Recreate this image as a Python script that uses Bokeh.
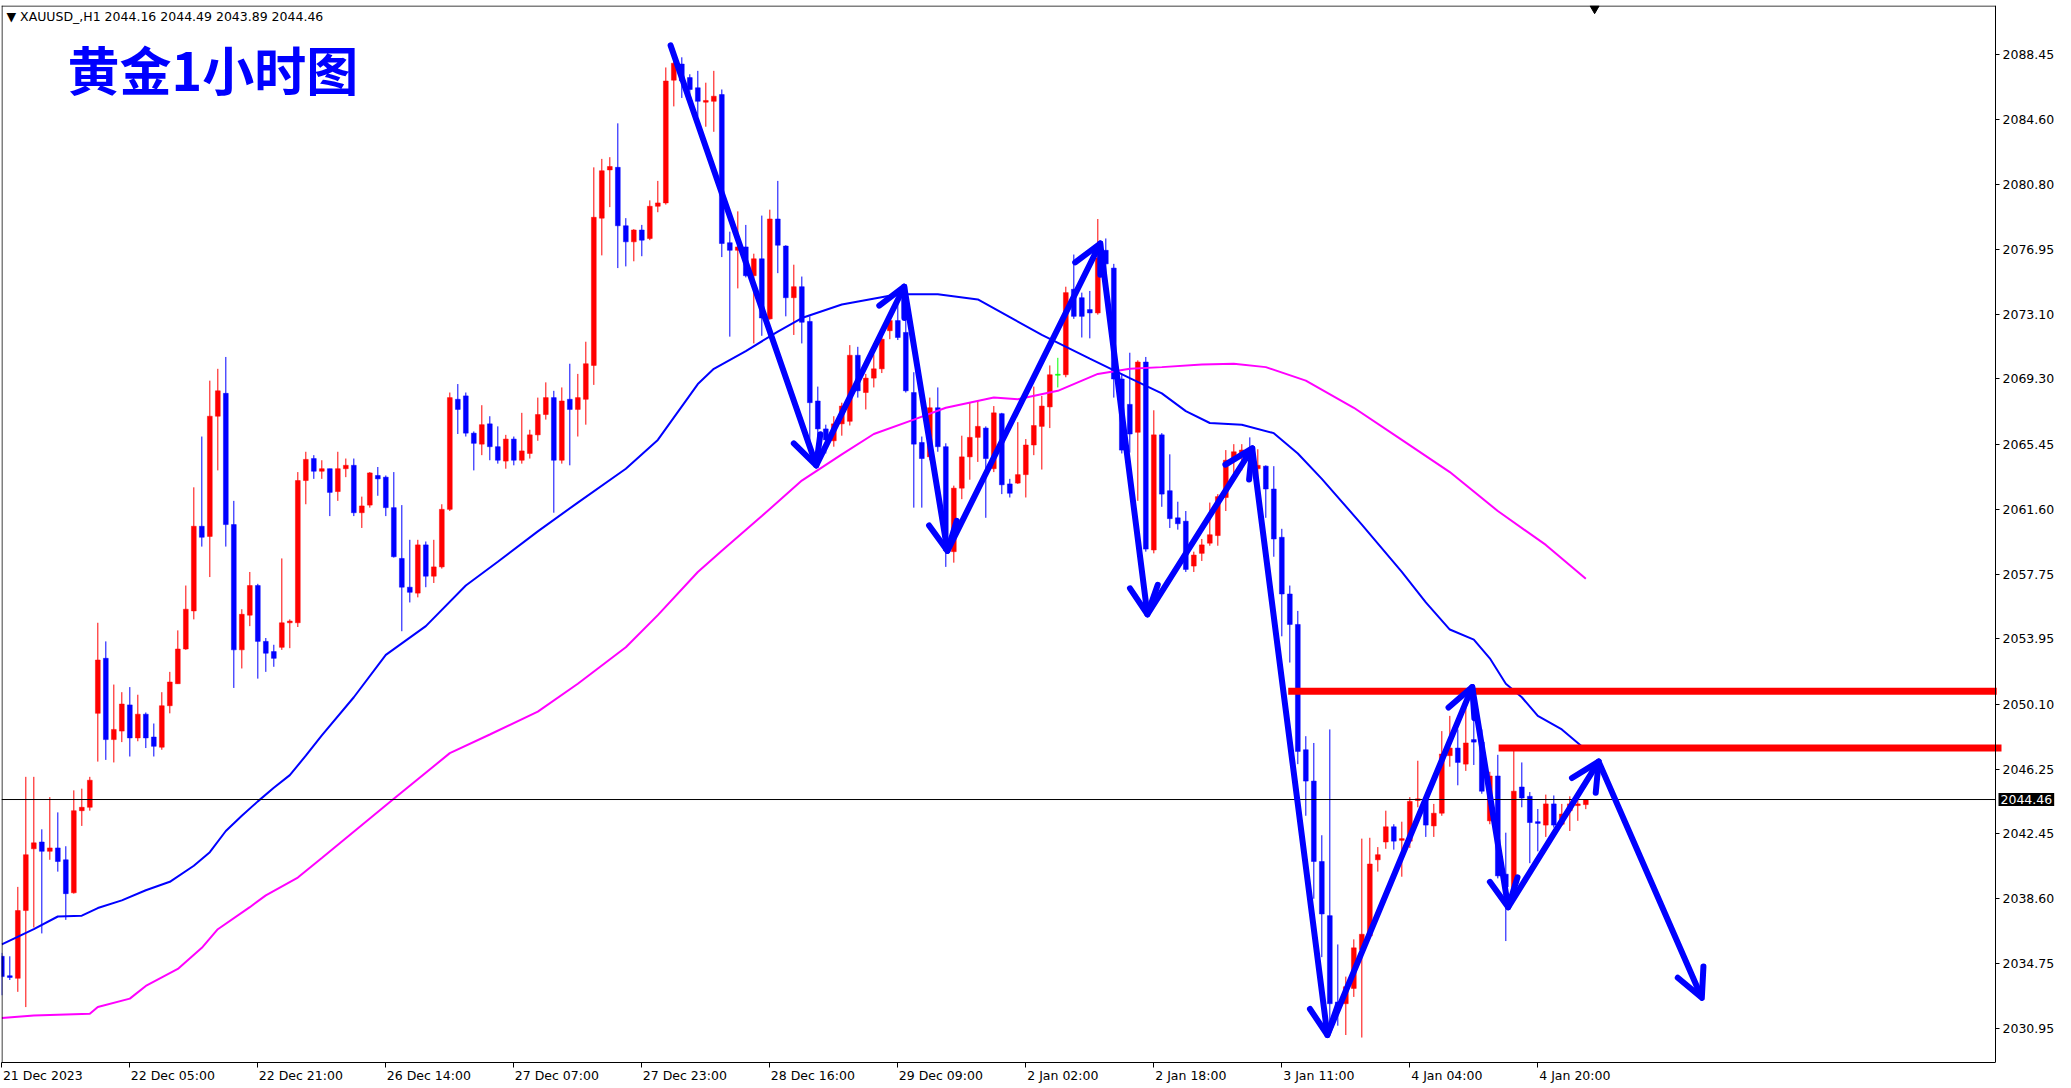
import numpy as np
from bokeh.plotting import figure
from bokeh.models import (Range1d, LinearAxis, FixedTicker, NumeralTickFormatter, Label,
                          Span, Arrow, OpenHead, ColumnDataSource)
from bokeh.embed import file_html
from bokeh.resources import INLINE

# ---------------- data (XAUUSD H1, bars 0..198) ----------------
opens = [
    2035.2, 2034.05, 2033.9, 2037.9, 2041.55, 2041.95, 2041.4, 2041.6, 2040.9, 2038.95,
    2043.8, 2044.0, 2049.55, 2052.8, 2048.0, 2048.5, 2050.05, 2048.1, 2049.5, 2048.15,
    2047.55, 2050.0, 2051.3, 2053.35, 2055.6, 2060.6, 2060.0, 2067.1, 2068.45, 2060.7,
    2053.3, 2055.35, 2057.1, 2053.8, 2053.2, 2053.45, 2054.9, 2054.9, 2063.3, 2064.6,
    2063.85, 2064.0, 2062.65, 2064.0, 2064.2, 2061.4, 2061.85, 2063.6, 2063.5, 2061.7,
    2058.7, 2057.0, 2056.65, 2059.5, 2057.65, 2058.2, 2061.6, 2068.1, 2068.3, 2066.1,
    2065.45, 2066.65, 2065.3, 2064.45, 2065.75, 2064.5, 2064.9, 2066.0, 2067.2, 2068.2,
    2064.5, 2068.1, 2067.5, 2068.1, 2070.1, 2078.8, 2081.65, 2081.8, 2078.35, 2077.4,
    2078.1, 2077.6, 2079.5, 2079.7, 2086.95, 2087.9, 2087.1, 2086.5, 2085.65, 2085.7,
    2086.1, 2077.35, 2076.9, 2077.1, 2075.4, 2076.4, 2072.85, 2078.75, 2077.15, 2074.1,
    2074.75, 2072.7, 2068.0, 2066.35, 2065.65, 2066.65, 2066.8, 2070.7, 2068.5, 2069.35,
    2069.9, 2072.15, 2072.75, 2072.05, 2068.5, 2065.55, 2064.7, 2067.6, 2065.3, 2059.1,
    2062.85, 2064.7, 2065.85, 2066.4, 2064.0, 2067.25, 2063.1, 2063.15, 2063.65, 2065.4,
    2066.5, 2067.65, 2069.55, 2069.55, 2074.6, 2074.1, 2073.4, 2073.2, 2076.9, 2075.85,
    2069.3, 2067.8, 2066.15, 2070.3, 2059.2, 2066.0, 2062.7, 2061.1, 2060.9, 2058.25,
    2059.0, 2059.6, 2060.05, 2062.3, 2064.45, 2064.9, 2065.1, 2064.0, 2064.15, 2062.8,
    2059.95, 2056.6, 2054.8, 2047.4, 2045.55, 2040.8, 2037.6, 2032.5, 2032.4, 2033.3,
    2035.6, 2036.4, 2040.9, 2041.95, 2042.85, 2042.05, 2042.0, 2044.4, 2044.45, 2042.9,
    2043.65, 2047.05, 2047.5, 2046.55, 2048.0, 2047.85, 2043.2, 2045.85, 2040.05, 2039.1,
    2045.2, 2044.65, 2043.15, 2042.95, 2044.2, 2043.0, 2043.8, 2044.1, 2044.16,
]
highs = [
    2035.4, 2035.2, 2039.3, 2045.8, 2045.8, 2042.7, 2044.6, 2043.7, 2041.7, 2045.0,
    2045.1, 2045.8, 2054.9, 2053.8, 2051.25, 2050.8, 2051.1, 2050.65, 2049.6, 2048.95,
    2050.8, 2052.0, 2054.45, 2057.1, 2062.9, 2065.9, 2069.2, 2069.9, 2070.6, 2062.1,
    2055.7, 2057.9, 2057.2, 2054.0, 2053.6, 2058.7, 2055.1, 2063.8, 2065.0, 2064.8,
    2064.5, 2064.0, 2065.0, 2064.6, 2064.6, 2062.35, 2063.8, 2064.1, 2063.6, 2063.8,
    2061.85, 2059.8, 2059.8, 2059.7, 2059.8, 2061.9, 2068.5, 2069.0, 2068.5, 2066.2,
    2067.75, 2067.1, 2066.5, 2066.0, 2065.9, 2067.3, 2066.3, 2068.2, 2069.1, 2068.6,
    2068.8, 2070.2, 2069.6, 2071.5, 2081.8, 2082.3, 2082.4, 2084.4, 2078.8, 2078.15,
    2078.4, 2079.85, 2081.0, 2087.7, 2088.3, 2088.3, 2087.3, 2087.5, 2086.8, 2087.5,
    2086.4, 2078.0, 2079.2, 2078.4, 2076.7, 2078.95, 2079.3, 2081.0, 2077.2, 2076.05,
    2075.35, 2073.0, 2068.85, 2066.6, 2067.1, 2067.9, 2071.3, 2071.2, 2069.6, 2070.75,
    2072.1, 2073.0, 2074.3, 2073.9, 2069.7, 2065.9, 2068.2, 2068.8, 2065.5, 2063.0,
    2065.95, 2067.9, 2068.0, 2066.5, 2067.7, 2067.3, 2063.4, 2066.75, 2065.75, 2068.85,
    2068.3, 2070.1, 2070.55, 2074.75, 2076.65, 2074.4, 2074.5, 2078.75, 2077.6, 2076.1,
    2069.6, 2070.85, 2070.4, 2070.6, 2067.45, 2066.1, 2064.85, 2062.05, 2061.5, 2059.1,
    2059.85, 2062.0, 2062.5, 2065.1, 2065.45, 2065.45, 2065.85, 2065.15, 2064.2, 2064.15,
    2060.45, 2057.1, 2055.6, 2048.2, 2047.8, 2042.35, 2048.6, 2035.9, 2034.0, 2036.2,
    2042.15, 2042.2, 2041.65, 2043.8, 2043.0, 2043.15, 2044.6, 2046.75, 2044.6, 2044.2,
    2048.5, 2049.4, 2048.6, 2050.1, 2050.2, 2048.6, 2046.1, 2047.1, 2042.5, 2047.4,
    2046.65, 2044.9, 2043.9, 2044.75, 2044.7, 2044.2, 2044.65, 2044.7, 2044.49,
]
lows = [
    2032.9, 2033.8, 2033.1, 2032.2, 2036.9, 2036.55, 2040.9, 2040.2, 2037.35, 2038.9,
    2042.9, 2043.8, 2046.7, 2046.8, 2046.65, 2047.85, 2047.0, 2047.9, 2047.5, 2047.0,
    2047.4, 2049.55, 2051.3, 2053.3, 2055.1, 2059.4, 2057.6, 2063.9, 2059.4, 2051.05,
    2052.2, 2054.7, 2051.6, 2052.0, 2052.3, 2053.3, 2053.4, 2054.65, 2061.9, 2063.4,
    2063.4, 2061.2, 2062.1, 2063.5, 2061.2, 2060.5, 2061.7, 2062.4, 2061.2, 2058.75,
    2054.4, 2056.1, 2056.4, 2057.0, 2057.25, 2058.1, 2061.5, 2066.05, 2065.9, 2063.9,
    2064.8, 2064.5, 2064.3, 2064.0, 2064.2, 2064.3, 2064.6, 2065.65, 2066.9, 2061.4,
    2064.3, 2064.2, 2065.9, 2066.6, 2068.95, 2076.6, 2079.45, 2075.85, 2075.95, 2076.25,
    2076.55, 2077.5, 2079.15, 2079.6, 2085.4, 2085.9, 2085.7, 2084.8, 2084.2, 2083.9,
    2076.5, 2071.8, 2074.65, 2075.3, 2071.4, 2071.85, 2072.8, 2075.55, 2073.0, 2071.9,
    2071.4, 2065.65, 2064.6, 2064.9, 2065.3, 2065.95, 2066.55, 2068.2, 2067.5, 2068.8,
    2069.65, 2071.65, 2071.6, 2068.5, 2061.7, 2061.7, 2064.5, 2065.0, 2058.2, 2058.45,
    2062.2, 2063.35, 2064.4, 2061.1, 2063.8, 2062.5, 2062.3, 2063.1, 2062.3, 2064.8,
    2063.95, 2066.4, 2068.8, 2069.4, 2072.85, 2071.75, 2071.7, 2073.1, 2075.3, 2068.2,
    2064.9, 2064.95, 2062.1, 2059.1, 2059.0, 2061.75, 2060.5, 2060.4, 2057.9, 2057.9,
    2058.55, 2059.45, 2059.45, 2061.5, 2063.7, 2063.9, 2063.9, 2062.9, 2061.1, 2058.8,
    2054.1, 2052.55, 2046.55, 2043.5, 2038.6, 2035.15, 2031.15, 2031.1, 2030.55, 2032.8,
    2030.4, 2036.3, 2040.2, 2041.55, 2041.5, 2039.9, 2041.6, 2044.0, 2042.25, 2042.25,
    2043.5, 2046.4, 2045.3, 2046.15, 2046.5, 2044.8, 2043.0, 2039.8, 2036.1, 2038.8,
    2044.0, 2040.7, 2041.4, 2042.25, 2042.8, 2042.9, 2042.6, 2043.2, 2043.89,
]
closes = [
    2034.0, 2033.95, 2037.9, 2041.2, 2041.9, 2041.4, 2041.6, 2040.8, 2038.9, 2043.8,
    2044.0, 2045.6, 2052.7, 2048.0, 2048.6, 2050.1, 2048.1, 2049.5, 2048.1, 2047.6,
    2050.0, 2051.4, 2053.35, 2055.7, 2060.6, 2059.95, 2067.1, 2068.6, 2060.7, 2053.3,
    2055.4, 2057.1, 2053.8, 2053.1, 2052.8, 2054.9, 2055.0, 2063.3, 2064.55, 2063.85,
    2064.0, 2062.6, 2064.0, 2064.2, 2061.4, 2061.8, 2063.75, 2063.4, 2061.7, 2058.8,
    2057.0, 2056.7, 2059.5, 2057.65, 2058.2, 2061.6, 2068.2, 2067.5, 2066.1, 2065.5,
    2066.6, 2065.3, 2064.5, 2065.75, 2064.5, 2065.05, 2066.0, 2067.2, 2068.2, 2064.5,
    2068.0, 2067.5, 2068.2, 2070.2, 2078.85, 2081.6, 2081.85, 2078.35, 2077.4, 2078.1,
    2077.5, 2079.5, 2079.7, 2086.9, 2087.95, 2086.9, 2086.4, 2085.7, 2085.75, 2086.0,
    2077.3, 2076.9, 2077.1, 2075.4, 2076.4, 2072.9, 2078.75, 2077.2, 2074.1, 2074.75,
    2072.65, 2067.9, 2066.35, 2065.7, 2066.65, 2067.7, 2070.7, 2068.6, 2069.35, 2069.9,
    2071.65, 2072.75, 2071.75, 2068.6, 2065.45, 2064.6, 2067.6, 2065.3, 2059.15, 2062.85,
    2064.7, 2065.85, 2066.5, 2064.6, 2067.3, 2063.05, 2062.55, 2063.65, 2065.4, 2066.55,
    2067.7, 2069.55, 2069.55, 2074.4, 2073.0, 2073.0, 2073.2, 2076.45, 2076.1, 2069.3,
    2065.1, 2066.05, 2070.3, 2059.25, 2066.0, 2062.5, 2061.05, 2060.75, 2058.05, 2058.9,
    2059.5, 2060.1, 2062.35, 2064.5, 2065.0, 2065.1, 2064.7, 2064.2, 2062.8, 2059.85,
    2056.6, 2054.8, 2047.3, 2045.55, 2040.8, 2037.7, 2032.4, 2032.2, 2033.4, 2035.7,
    2036.5, 2040.65, 2041.2, 2042.85, 2042.0, 2042.15, 2044.35, 2044.5, 2042.95, 2043.65,
    2047.15, 2047.5, 2046.65, 2047.8, 2047.85, 2044.95, 2045.85, 2039.95, 2039.3, 2044.95,
    2044.55, 2043.1, 2043.05, 2044.2, 2042.95, 2043.6, 2044.2, 2044.2, 2044.46,
]

# moving averages (bar index, price)
ma_fast_bars = [0, 4, 7, 10, 12, 15, 18, 21, 24, 26, 28, 30, 32, 34, 36, 38, 40, 44, 48, 53,
                58, 62, 67, 72, 78, 82, 87, 89, 93, 97, 100, 105, 112, 117, 122, 126, 130, 136, 141, 145,
                148, 151, 155, 159, 162, 165, 170, 175, 178, 181, 184, 186, 188, 190, 192, 195, 198]
ma_fast_vals = [2035.9, 2036.8, 2037.55, 2037.6, 2038.05, 2038.5, 2039.1, 2039.6, 2040.55, 2041.35,
                2042.6, 2043.5, 2044.35, 2045.15, 2045.9, 2047.05, 2048.25, 2050.5, 2053.0, 2054.7,
                2057.1, 2058.5, 2060.3, 2062.0, 2064.0, 2065.7, 2069.0, 2069.9, 2070.95, 2072.1,
                2072.9, 2073.7, 2074.3, 2074.3, 2074.0, 2072.95, 2071.9, 2070.5, 2069.35, 2068.45,
                2067.4, 2066.7, 2066.6, 2066.1, 2064.9, 2063.4, 2060.7, 2057.9, 2056.1, 2054.5,
                2053.9, 2052.8, 2051.3, 2050.5, 2049.4, 2048.6, 2047.4]
ma_slow_bars = [0, 4, 7, 11, 12, 16, 18, 22, 25, 27, 31, 33, 37, 40, 49, 56, 61, 67, 72, 78,
                82, 87, 90, 95, 100, 105, 109, 114, 118, 124, 127, 132, 137, 141, 145, 150, 154, 158, 163, 169,
                175, 181, 187, 193, 198]
ma_slow_vals = [2031.55, 2031.7, 2031.75, 2031.8, 2032.2, 2032.7, 2033.45, 2034.45, 2035.7, 2036.8,
                2038.1, 2038.8, 2039.85, 2041.0, 2044.5, 2047.2, 2048.3, 2049.65, 2051.3, 2053.45,
                2055.35, 2057.9, 2059.15, 2061.2, 2063.3, 2064.85, 2066.05, 2066.9, 2067.6, 2068.2,
                2068.1, 2068.6, 2069.6, 2069.9, 2070.0, 2070.15, 2070.2, 2070.0, 2069.2, 2067.6,
                2065.7, 2063.8, 2061.5, 2059.5, 2057.5]

# hand-drawn zigzag arrows (bar index, price)
zz_bars = [83.6, 101.8, 112.8, 118.2, 137.3, 143.2, 156.3, 165.7, 183.8, 188.3, 199.6, 212.5]
zz_prices = [2089.0, 2064.2, 2074.75, 2059.15, 2077.3, 2055.4, 2065.2, 2030.55, 2051.1, 2038.1, 2046.7, 2032.75]

# red horizontal levels (start bar, price)
level_bars = [160.8, 187.1]
level_prices = [2050.85, 2047.5]

last_price = 2044.46
header_text = "\u25bc XAUUSD_,H1  2044.16 2044.49 2043.89 2044.46"
title_text = "黄金1小时图"

x_tick_bars = [0, 16, 32, 48, 64, 80, 96, 112, 128, 144, 160, 176, 192]
x_tick_labels = ["21 Dec 2023", "22 Dec 05:00", "22 Dec 21:00", "26 Dec 14:00", "27 Dec 07:00",
                 "27 Dec 23:00", "28 Dec 16:00", "29 Dec 09:00", "2 Jan 02:00", "2 Jan 18:00",
                 "3 Jan 11:00", "4 Jan 04:00", "4 Jan 20:00"]
y_ticks = [2088.45, 2084.60, 2080.80, 2076.95, 2073.10, 2069.30, 2065.45, 2061.60, 2057.75,
           2053.95, 2050.10, 2046.25, 2042.45, 2038.60, 2034.75, 2030.95]

# ---------------- layout ----------------
n = len(opens)
assert all(len(a) == n for a in (highs, lows, closes))
assert len(ma_fast_bars) == len(ma_fast_vals) and len(ma_slow_bars) == len(ma_slow_vals)

CHART_W = 1994               # chart area width (px); the price scale sits to its right
FW, FH = 2066, 1057          # full frame (chart + price scale area)
BL, BT, BR, BB = 1, 5, 0, 24
PX_BAR = 8.0
PX_USD = 16.93
X0 = -0.04
X1 = X0 + FW / PX_BAR
X_AX = X0 + CHART_W / PX_BAR     # x of the price axis
Y1 = 2091.36
Y0 = Y1 - FH / PX_USD

BLUE = "#0000ff"
RED = "#ff0000"
FONT = "DejaVu Sans"
FS = "12.5px"

p = figure(frame_width=FW, frame_height=FH, x_range=Range1d(X0, X1), y_range=Range1d(Y0, Y1),
           output_backend="svg", toolbar_location=None,
           x_axis_location=None, y_axis_location=None,
           min_border_left=BL, min_border_top=BT, min_border_right=BR, min_border_bottom=BB,
           background_fill_color="white", border_fill_color="white",
           outline_line_color=None)
p.grid.grid_line_color = None

# price axis, drawn at the right edge of the chart area
yax = LinearAxis(ticker=FixedTicker(ticks=y_ticks, minor_ticks=[]),
                 formatter=NumeralTickFormatter(format="0.00"),
                 fixed_location=X_AX,
                 major_tick_out=4, major_tick_in=0, major_label_standoff=3,
                 minor_tick_line_color=None, axis_line_color="black",
                 major_tick_line_color="black",
                 major_label_text_font=FONT, major_label_text_font_size=FS,
                 major_label_text_color="black")
p.add_layout(yax, "right")

# time axis: tick marks at the bars (minor ticks), label text starting at each tick (MT4 style)
em = {" ": 0.318, "D": 0.770, "e": 0.615, "c": 0.550, ":": 0.337, "J": 0.295, "a": 0.613, "n": 0.634}
def text_w(s):
    return sum(em.get(ch, 0.636) for ch in s) * 12.5

label_pos = [round((b + (text_w(s) / 2 + 1) / PX_BAR) * 8) / 8 for b, s in zip(x_tick_bars, x_tick_labels)]
xax = LinearAxis(ticker=FixedTicker(ticks=label_pos, minor_ticks=x_tick_bars),
                 major_label_overrides={pos: s for pos, s in zip(label_pos, x_tick_labels)},
                 bounds=(X0, X_AX),
                 major_tick_line_color=None, major_tick_out=0, major_tick_in=0,
                 minor_tick_line_color="black", minor_tick_out=5, minor_tick_in=0,
                 axis_line_color="black", major_label_standoff=0,
                 major_label_text_font=FONT, major_label_text_font_size=FS,
                 major_label_text_color="black")
p.add_layout(xax, "below")

# chart border (left and top)
p.add_layout(Span(location=X0 + 0.5 / PX_BAR, dimension="height", line_color="black", line_width=1))
p.segment(x0=[X0], y0=[Y1 - 0.5 / PX_USD], x1=[X_AX], y1=[Y1 - 0.5 / PX_USD],
          line_color="black", line_width=1)

# candles
o = np.array(opens); c = np.array(closes)
hi = np.maximum.reduce([np.array(highs), o, c])
lo = np.minimum.reduce([np.array(lows), o, c])
colors = [RED if cc > oo else (BLUE if cc < oo else "#00ff00") for oo, cc in zip(opens, closes)]
top = np.maximum(o, c); bot = np.minimum(o, c)
min_h = 1.0 / PX_USD
mid = (top + bot) / 2
thin = (top - bot) < min_h
top = np.where(thin, mid + min_h / 2, top)
bot = np.where(thin, mid - min_h / 2, bot)
src = ColumnDataSource(dict(x=np.arange(n), hi=hi, lo=lo, top=top, bot=bot, color=colors))
p.segment(x0="x", y0="hi", x1="x", y1="lo", line_color="color", line_width=1, source=src)
p.vbar(x="x", top="top", bottom="bot", width=0.6, fill_color="color", line_color="color",
       line_width=0.5, source=src)

# moving averages
p.line(ma_slow_bars, ma_slow_vals, line_color="#ff00ff", line_width=2)
p.line(ma_fast_bars, ma_fast_vals, line_color=BLUE, line_width=2)

# current price line (chart area only)
p.segment(x0=[X0], y0=[last_price], x1=[X_AX], y1=[last_price], line_color="black", line_width=1)

# red levels (run to the price scale)
p.segment(x0=level_bars, y0=level_prices, x1=[X_AX + 0.15, X_AX + 0.75], y1=level_prices,
          line_color=RED, line_width=7)

# zigzag arrows
for i in range(len(zz_bars) - 1):
    p.add_layout(Arrow(x_start=zz_bars[i], y_start=zz_prices[i],
                       x_end=zz_bars[i + 1], y_end=zz_prices[i + 1],
                       line_color=BLUE, line_width=6, line_cap="round",
                       end=OpenHead(size=28, line_color=BLUE, line_width=6,
                                    line_cap="round", line_join="round")))

# chart-shift marker at top
p.scatter([199.1], [Y1 - 3.0 / PX_USD], marker="inverted_triangle", size=9,
          fill_color="black", line_color="black")

# header and title
p.add_layout(Label(x=5, y=Y1 - 11 / PX_USD, x_units="screen", y_units="data",
                   text=header_text, text_font=FONT, text_font_size="12.5px",
                   text_color="black", text_baseline="middle", text_align="left"))
p.add_layout(Label(x=66, y=Y1 - 63 / PX_USD, x_units="screen", y_units="data",
                   text=title_text, text_font="Noto Sans CJK SC", text_font_size="52px",
                   text_font_style="bold", text_color=BLUE, text_baseline="middle",
                   text_align="left"))

# last price tag on the price scale
p.add_layout(Label(x=CHART_W + 3, y=last_price, x_units="screen", y_units="data",
                   text="2044.46", text_font=FONT, text_font_size=FS, text_color="white",
                   background_fill_color="black", text_baseline="middle", text_align="left",
                   padding=2))

open("out.html", "w").write(file_html(p, INLINE))
